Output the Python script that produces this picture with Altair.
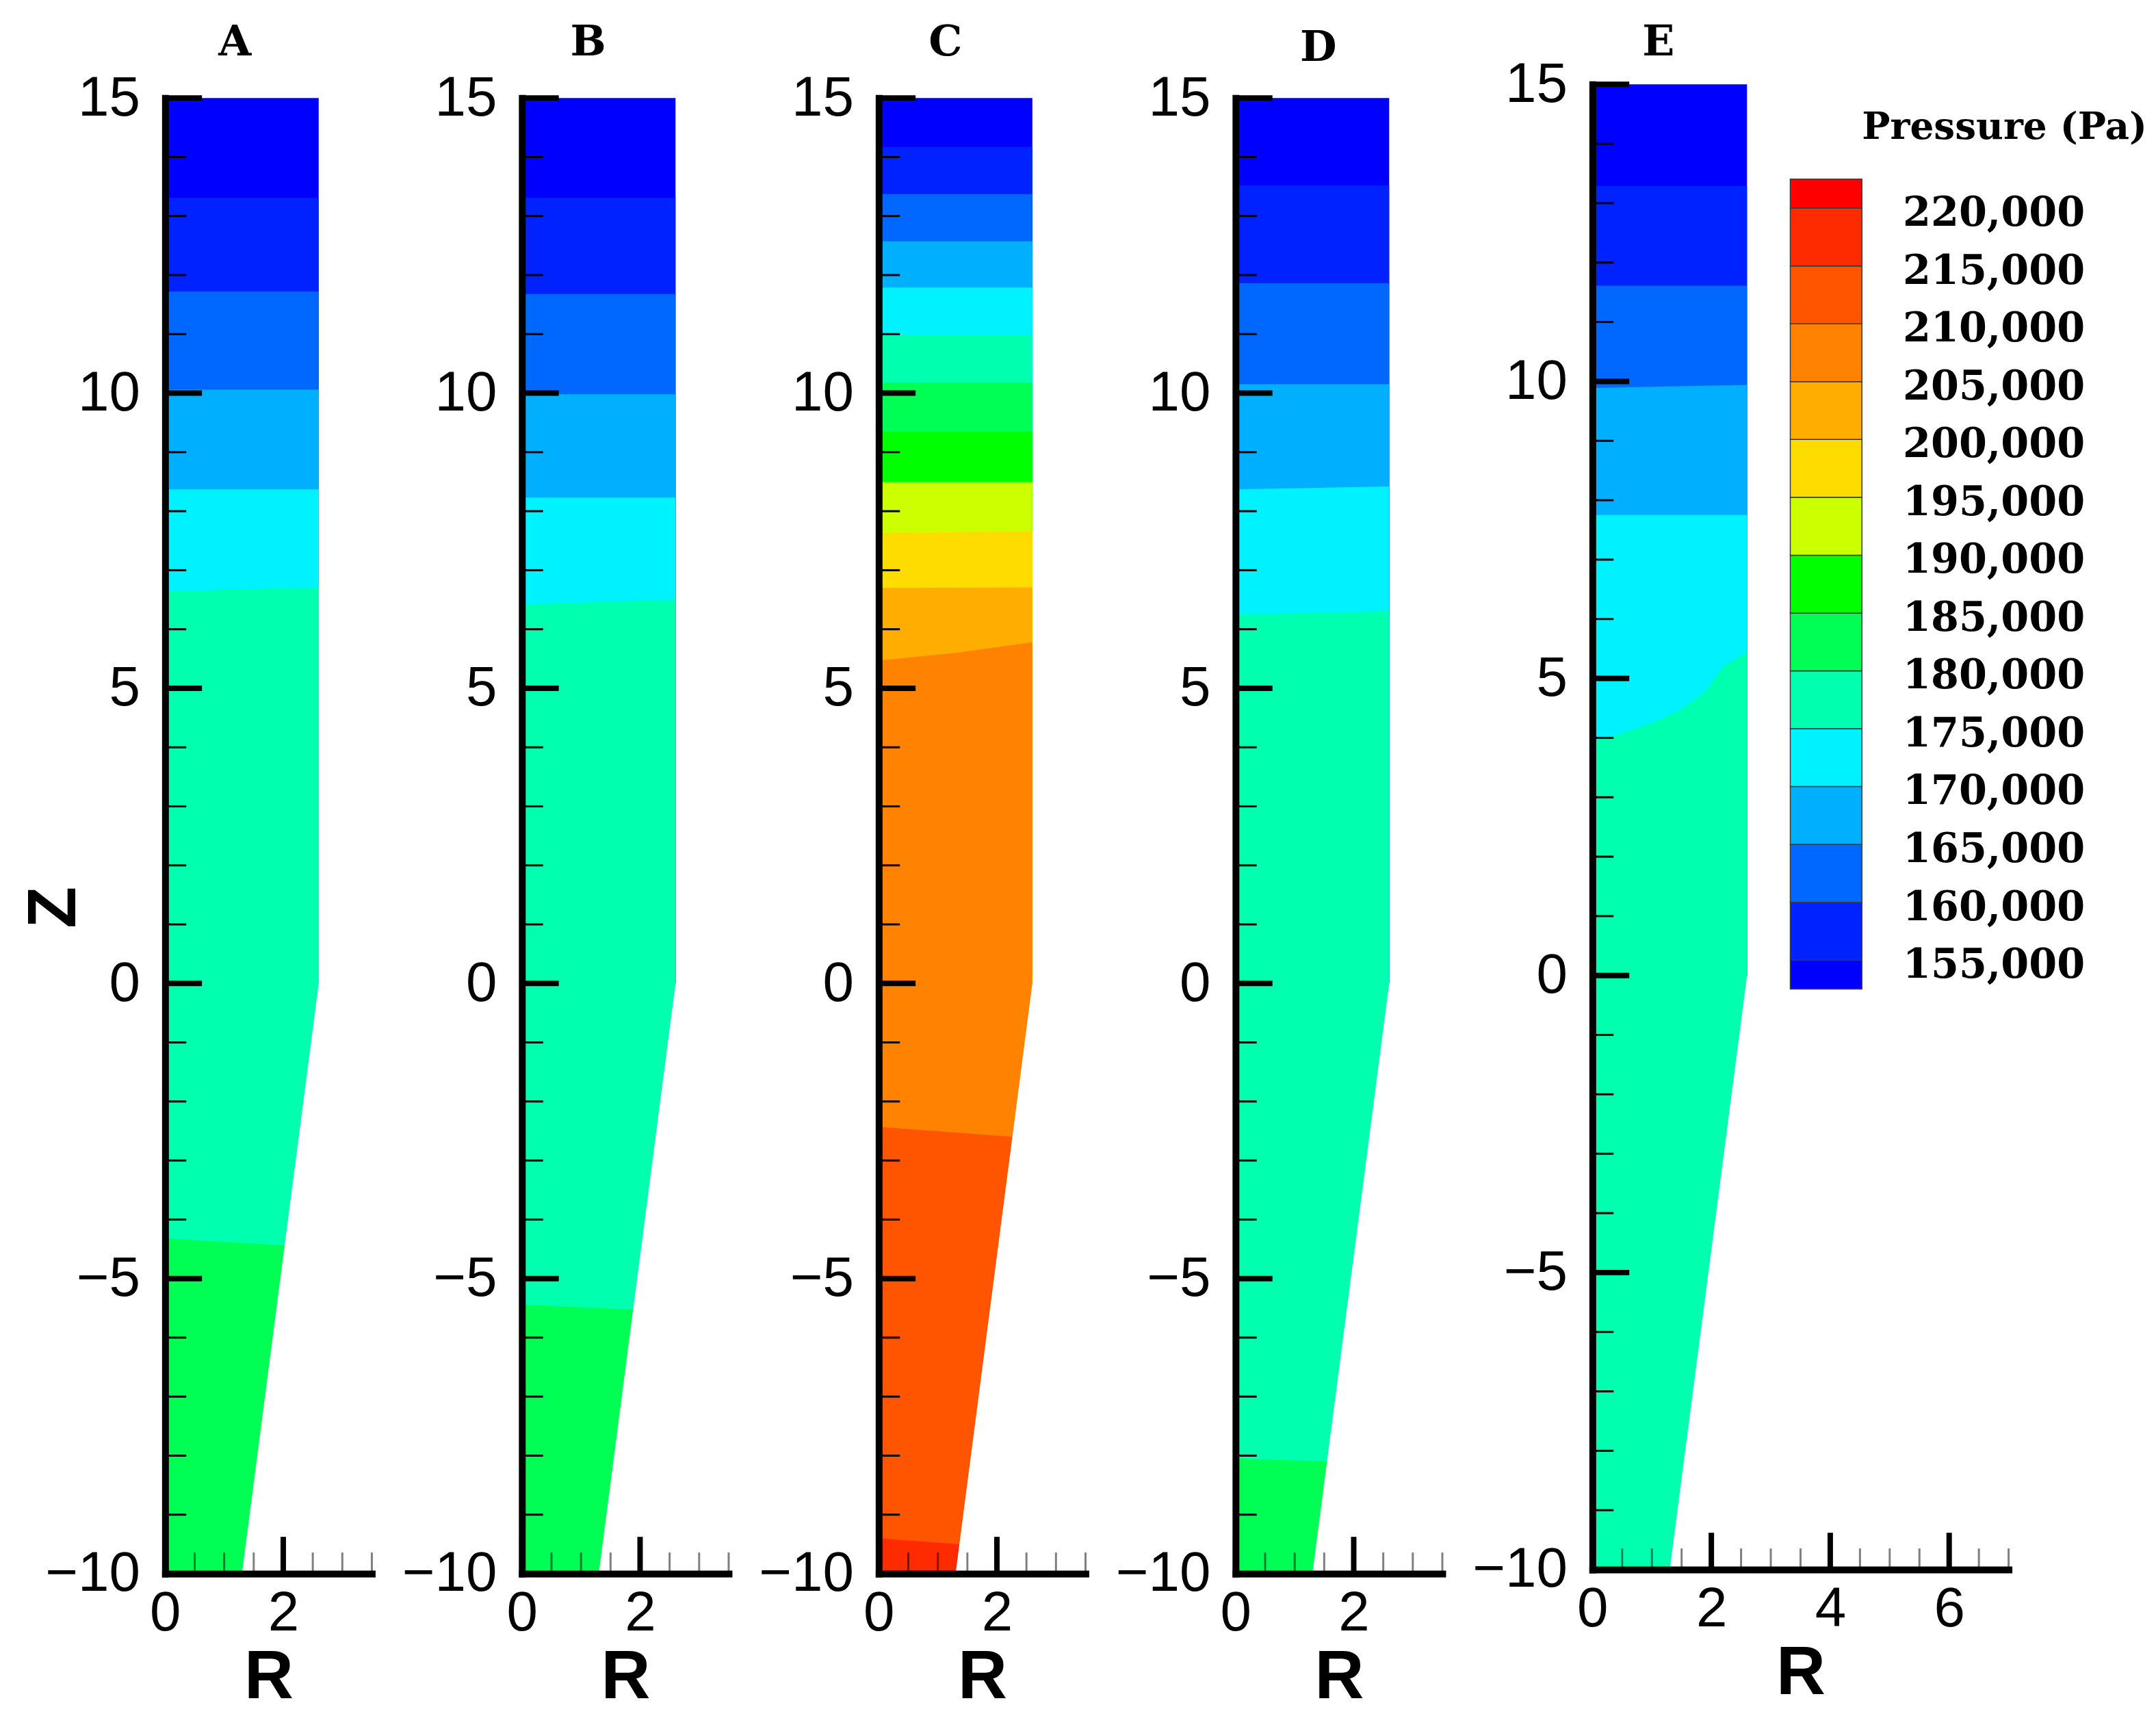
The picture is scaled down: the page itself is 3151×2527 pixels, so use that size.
import altair as alt
import pandas as pd

# ---------------- data ----------------
# contour levels (Pa) and the colour of each band (band i lies between LEVELS[i-1] and LEVELS[i])
LEVELS = [155000, 160000, 165000, 170000, 175000, 180000, 185000,
          190000, 195000, 200000, 205000, 210000, 215000, 220000]
BAND_NAMES = ["b00", "b01", "b02", "b03", "b04", "b05", "b06", "b07",
              "b08", "b09", "b10", "b11", "b12", "b13", "b14"]
BAND_COLORS = ["#0000FF", "#0022FF", "#0068FF", "#00B0FF", "#00F2FF",
               "#00FFAE", "#00FF55", "#00FF00", "#CCFF00", "#FFDC00",
               "#FFAD00", "#FF8200", "#FF5500", "#FF2B00", "#FF0000"]
COLORBAR_EXTENT = [152500, 222500]

# geometry of the domain (R, Z)
R_TOP = 2.6
R_BOTTOM = 1.3
Z_TOP = 15.0
Z_NECK = 0.0
Z_BOTTOM = -10.0

PANEL_NAMES = ["A", "B", "C", "D", "E"]

# contour boundaries: level, R positions, Z positions
A_LEVELS = [155000, 160000, 165000, 170000, 175000, 180000]
A_R = [[0, 2.6], [0, 2.6], [0, 2.6], [0, 2.6], [0, 2.6], [0, 2.03]]
A_Z = [[13.31, 13.31], [11.72, 11.72], [10.06, 10.06], [8.37, 8.37],
       [6.64, 6.71], [-4.32, -4.44]]

B_LEVELS = [155000, 160000, 165000, 170000, 175000, 180000]
B_R = [[0, 2.6], [0, 2.6], [0, 2.6], [0, 2.6], [0, 2.6], [0, 1.88]]
B_Z = [[13.31, 13.31], [11.68, 11.68], [9.98, 9.98], [8.23, 8.23],
       [6.42, 6.50], [-5.44, -5.53]]

C_LEVELS = [155000, 160000, 165000, 170000, 175000, 180000, 185000,
            190000, 195000, 200000, 205000, 210000, 215000]
C_R = [[0, 2.6], [0, 2.6], [0, 2.6], [0, 2.6], [0, 2.6], [0, 2.6],
       [0, 2.6], [0, 2.6], [0, 2.6], [0, 2.6], [0, 1.3, 2.6],
       [0, 2.26], [0, 1.365]]
C_Z = [[14.17, 14.17], [13.37, 13.37], [12.57, 12.57], [11.79, 11.79],
       [10.98, 10.98], [10.18, 10.18], [9.35, 9.35], [8.49, 8.49],
       [7.63, 7.66], [6.70, 6.71], [5.47, 5.60, 5.78],
       [-2.43, -2.60], [-9.40, -9.50]]

D_LEVELS = [155000, 160000, 165000, 170000, 175000, 180000]
D_R = [[0, 2.6], [0, 2.6], [0, 2.6], [0, 2.6], [0, 2.6], [0, 1.55]]
D_Z = [[13.52, 13.52], [11.86, 11.86], [10.15, 10.15], [8.37, 8.42],
       [6.25, 6.30], [-8.05, -8.10]]

E_LEVELS = [155000, 160000, 165000, 170000, 175000]
E_R = [[0, 2.6], [0, 2.6], [0, 2.6], [0, 2.6],
       [0, 0.5, 1.0, 1.5, 1.9, 2.2, 2.6]]
E_Z = [[13.29, 13.29], [11.61, 11.61], [9.89, 9.94], [7.75, 7.75],
       [3.95, 4.07, 4.24, 4.48, 4.78, 5.20, 5.44]]

# axis ticks
Y_LABELS = [-10, -5, 0, 5, 10, 15]
Y_MINOR = [-9, -8, -7, -6, -4, -3, -2, -1, 1, 2, 3, 4, 6, 7, 8, 9, 11, 12, 13, 14]
X_LABELS_NARROW = [0, 2]
X_MINOR_NARROW = [0.5, 1, 1.5, 2.5, 3, 3.5]
X_LABELS_WIDE = [0, 2, 4, 6]
X_MINOR_WIDE = [0.5, 1, 1.5, 2.5, 3, 3.5, 4.5, 5, 5.5, 6.5, 7]

# ---------------- layout / style ----------------
SANS = "Liberation Sans"
SERIF = "DejaVu Serif"
COLOR_SCALE = alt.Scale(domain=BAND_NAMES, range=BAND_COLORS)

# h = plot height; ytop = pixel of Z=15 relative to the plot top
PANEL_LAYOUT = {
    "A": dict(xmax=3.5, w=303, h=2163, ytop=0, title_off=-41, title_r=1.18),
    "B": dict(xmax=3.5, w=303, h=2163, ytop=0, title_off=-41, title_r=1.12),
    "C": dict(xmax=3.5, w=303, h=2163, ytop=0, title_off=-41, title_r=1.13),
    "D": dict(xmax=3.5, w=303, h=2163, ytop=0, title_off=-49, title_r=1.40),
    "E": dict(xmax=7.0, w=610, h=2157, ytop=-20, title_off=-61, title_r=1.11),
}


def build_panel(name, levels, Rs, Zs, xlabels, xminor, show_ytitle):
    lay = PANEL_LAYOUT[name]
    w, h, xmax = lay["w"], lay["h"], lay["xmax"]
    xs = alt.Scale(domain=[0, xmax], nice=False, zero=False)
    ys = alt.Scale(domain=[Z_BOTTOM, Z_TOP], range=[h, lay["ytop"]],
                   nice=False, zero=False)

    y_axis_kw = dict(values=Y_LABELS, ticks=False, tickSize=0, grid=False,
                     domainWidth=10, domainColor="black", domainCap="square",
                     labelFont=SANS, labelFontSize=82, labelColor="black",
                     labelPadding=37, labelFlush=False, labelOverlap=False,
                     minExtent=190, zindex=1)
    if show_ytitle:
        y_axis = alt.Axis(title="Z", titleFont=SANS, titleFontSize=100,
                          titleFontWeight="bold", titleColor="black",
                          titleX=-162, titleY=1186, titleAlign="center",
                          titleBaseline="middle", titleAngle=270, **y_axis_kw)
    else:
        y_axis = alt.Axis(title=None, **y_axis_kw)
    x_axis = alt.Axis(values=xlabels, ticks=False, tickSize=0, grid=False,
                      domainWidth=10, domainColor="black", domainCap="square",
                      labelFont=SANS, labelFontSize=82, labelColor="black",
                      labelPadding=18, labelFlush=False, labelOverlap=False,
                      title="R", titleFont=SANS, titleFontSize=100,
                      titleFontWeight="bold", titleColor="black",
                      titlePadding=4, zindex=1)

    def X(field):
        return alt.X(field, scale=xs, axis=x_axis)

    def Y(field):
        return alt.Y(field, scale=ys, axis=y_axis)

    layers = []
    # whole domain painted with the lowest band
    shape = pd.DataFrame({"R": [0.0, R_TOP], "z": [Z_TOP, Z_TOP],
                          "zb": [Z_BOTTOM, Z_BOTTOM],
                          "band": [BAND_NAMES[0], BAND_NAMES[0]]})
    layers.append(
        alt.Chart(shape).mark_area(interpolate="linear").encode(
            x=X("R:Q"), y=Y("z:Q"), y2="zb:Q",
            color=alt.Color("band:N", scale=COLOR_SCALE, legend=None),
        )
    )
    # each contour: region below it gets the next band colour
    for lev, r, z in zip(levels, Rs, Zs):
        band = BAND_NAMES[LEVELS.index(lev) + 1]
        df = pd.DataFrame({"R": r, "z": z, "zb": [Z_BOTTOM] * len(r),
                           "band": [band] * len(r)})
        layers.append(
            alt.Chart(df).mark_area(interpolate="linear").encode(
                x=X("R:Q"), y=Y("z:Q"), y2="zb:Q",
                color=alt.Color("band:N", scale=COLOR_SCALE, legend=None),
            )
        )
    # outside of the tapered wall (white)
    wall = pd.DataFrame({"R": [R_BOTTOM, R_TOP, xmax],
                         "z": [Z_BOTTOM, Z_BOTTOM, Z_BOTTOM],
                         "zb": [Z_BOTTOM, Z_NECK, Z_NECK]})
    layers.append(
        alt.Chart(wall).mark_area(color="white", interpolate="linear").encode(
            x=X("R:Q"), y=Y("z:Q"), y2="zb:Q",
        )
    )
    # inward ticks on the Z axis
    layers.append(
        alt.Chart(pd.DataFrame({"t": Y_LABELS})).mark_rule(color="black", strokeWidth=8).encode(
            y=Y("t:Q"), x=alt.value(0), x2=alt.value(54))
    )
    layers.append(
        alt.Chart(pd.DataFrame({"t": Y_MINOR})).mark_rule(color="black", strokeWidth=3).encode(
            y=Y("t:Q"), x=alt.value(0), x2=alt.value(31))
    )
    # inward ticks on the R axis
    layers.append(
        alt.Chart(pd.DataFrame({"t": xlabels})).mark_rule(color="black", strokeWidth=8).encode(
            x=X("t:Q"), y=alt.value(h), y2=alt.value(h - 54))
    )
    layers.append(
        alt.Chart(pd.DataFrame({"t": xminor})).mark_rule(color="black", strokeWidth=3, opacity=0.5).encode(
            x=X("t:Q"), y=alt.value(h), y2=alt.value(h - 31))
    )

    px_per_r = w / xmax
    title = alt.TitleParams(text=name, font=SERIF, fontSize=62, fontWeight="bold",
                            color="black", anchor="middle", frame="group",
                            baseline="alphabetic", offset=lay["title_off"],
                            dx=(lay["title_r"] - xmax / 2) * px_per_r)
    return alt.layer(*layers).properties(width=w, height=h, title=title)


def build_legend():
    lo = [COLORBAR_EXTENT[0]] + LEVELS
    hi = LEVELS + [COLORBAR_EXTENT[1]]
    boxes = pd.DataFrame({"lo": lo, "hi": hi, "band": BAND_NAMES})
    ps = alt.Scale(domain=COLORBAR_EXTENT, range=[1306, 119], nice=False, zero=False)
    rects = alt.Chart(boxes).mark_rect(stroke="#3a3a3a", strokeWidth=1.5).encode(
        y=alt.Y("lo:Q", scale=ps, axis=None), y2="hi:Q",
        x=alt.value(290), x2=alt.value(395),
        color=alt.Color("band:N", scale=COLOR_SCALE, legend=None),
    )
    labels = alt.Chart(pd.DataFrame({"p": LEVELS})).mark_text(
        align="left", baseline="middle", font=SERIF, fontSize=59, dy=8,
        fontWeight="bold", color="black").encode(
        y=alt.Y("p:Q", scale=ps, axis=None), x=alt.value(455),
        text=alt.Text("p:Q", format=","),
    )
    head = alt.Chart(pd.DataFrame({"t": ["Pressure (Pa)"]})).mark_text(
        align="center", baseline="middle", font=SERIF, fontSize=55,
        fontWeight="bold", color="black").encode(
        text="t:N", x=alt.value(604), y=alt.value(43))
    return alt.layer(rects, labels, head)


panelA = build_panel("A", A_LEVELS, A_R, A_Z, X_LABELS_NARROW, X_MINOR_NARROW, True)
panelB = build_panel("B", B_LEVELS, B_R, B_Z, X_LABELS_NARROW, X_MINOR_NARROW, False)
panelC = build_panel("C", C_LEVELS, C_R, C_Z, X_LABELS_NARROW, X_MINOR_NARROW, False)
panelD = build_panel("D", D_LEVELS, D_R, D_Z, X_LABELS_NARROW, X_MINOR_NARROW, False)
panelE = build_panel("E", E_LEVELS, E_R, E_Z, X_LABELS_WIDE, X_MINOR_WIDE, False)
panelE = alt.layer(panelE, build_legend()).resolve_scale(y="independent")

chart = alt.hconcat(panelA, panelB, panelC, panelD, panelE, spacing=28).properties(
    padding={"left": 22, "top": 20, "right": 5, "bottom": 5},
    background="white",
).configure_view(stroke=None)

chart.save("out.html", embed_options={"renderer": "svg", "actions": False})
